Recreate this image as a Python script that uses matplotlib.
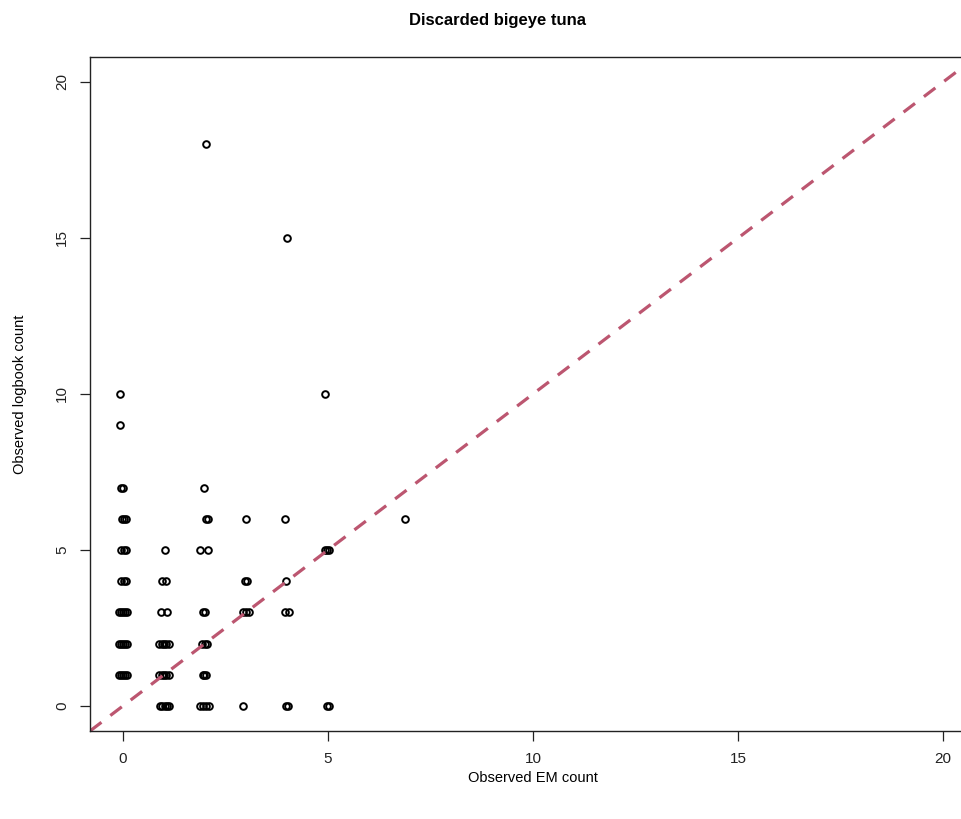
import numpy as np
import matplotlib.pyplot as plt

plt.rcParams['font.family'] = ['Liberation Sans', 'DejaVu Sans']

# Observed counts per trip (EM count jittered horizontally as in the source plot)
y_18 = [18]; x_18 = [2.02]
y_15 = [15]; x_15 = [4.01]
y_10 = [10, 10]; x_10 = [-0.07, 4.94]
y_9 = [9]; x_9 = [-0.07]
y_7 = [7, 7, 7]; x_7 = [-0.05, 0.0, 1.98]
y_6 = [6] * 8; x_6 = [-0.03, 0.03, 0.08, 2.03, 2.08, 3.0, 3.95, 6.89]
y_5 = [5] * 9; x_5 = [-0.05, 0.02, 0.07, 1.03, 1.88, 2.08, 4.92, 4.98, 5.03]
y_4 = [4] * 8; x_4 = [-0.05, 0.02, 0.07, 0.95, 1.05, 2.98, 3.02, 3.97]
y_3 = [3] * 14; x_3 = [-0.1, -0.05, 0.0, 0.05, 0.1, 0.92, 1.07, 1.95, 2.0,
                       2.93, 3.0, 3.07, 3.95, 4.05]
y_2 = [2] * 13; x_2 = [-0.1, -0.05, 0.0, 0.05, 0.1, 0.88, 0.95, 1.0, 1.06,
                       1.12, 1.93, 2.0, 2.05]
y_1 = [1] * 13; x_1 = [-0.1, -0.05, 0.0, 0.05, 0.1, 0.88, 0.95, 1.0, 1.06,
                       1.12, 1.95, 1.99, 2.04]
y_0 = [0] * 14; x_0 = [0.9, 0.96, 1.02, 1.08, 1.13, 1.88, 1.95, 2.02, 2.1,
                       2.92, 3.97, 4.02, 4.97, 5.02]

em_count = np.array(x_18 + x_15 + x_10 + x_9 + x_7 + x_6 + x_5 + x_4 + x_3
                    + x_2 + x_1 + x_0)
logbook_count = np.array(y_18 + y_15 + y_10 + y_9 + y_7 + y_6 + y_5 + y_4
                         + y_3 + y_2 + y_1 + y_0)

ticks = [0, 5, 10, 15, 20]

# Figure (axes run past the right edge, as in the cropped original)
fig = plt.figure(figsize=(9.61, 8.19), dpi=100)
ax = fig.add_axes([90 / 961, 88 / 819, 886 / 961, 674 / 819])

ax.plot(em_count, logbook_count, linestyle="none", marker="o", markersize=4.8,
        markerfacecolor="none", markeredgecolor="black", markeredgewidth=1.4)

# 1:1 reference line
ax.axline((0, 0), slope=1, color="#BC5670", linewidth=2.3,
          linestyle=(0, (4.5, 3.5)))

ax.set_xlim(-0.8, 20.8)
ax.set_ylim(-0.8, 20.8)
ax.set_xticks(ticks)
ax.set_yticks(ticks)
ax.set_yticklabels([str(t) for t in ticks], rotation=90, va="center")
ax.tick_params(length=7, width=0.9, labelsize=11, pad=8, colors="#222222")
for spine in ax.spines.values():
    spine.set_linewidth(1.0)
    spine.set_color("#222222")

ax.set_xlabel("Observed EM count", fontsize=10.5, labelpad=4)
ax.set_ylabel("Observed logbook count", fontsize=10.5, labelpad=20)
fig.text(0.518, 0.975, "Discarded bigeye tuna", ha="center", va="center",
         fontsize=12, fontweight="bold")

fig.savefig("out.png", dpi=100)
